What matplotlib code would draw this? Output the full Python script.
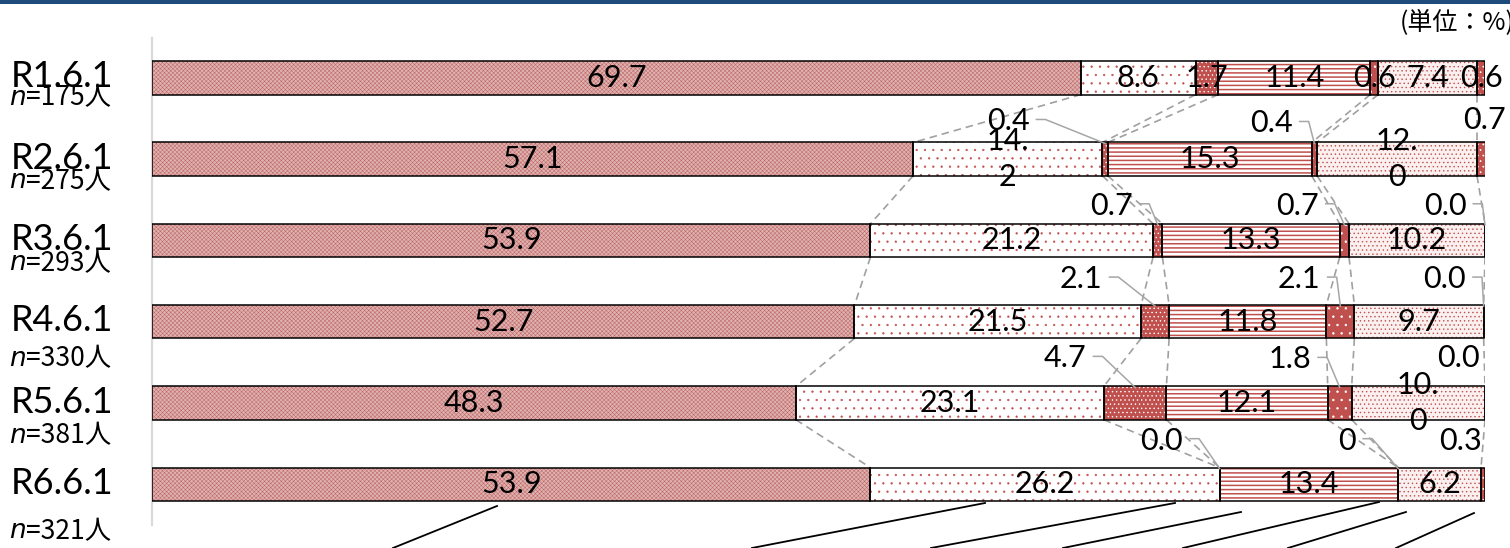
import matplotlib
matplotlib.use('Agg')
import matplotlib.pyplot as plt
from matplotlib.lines import Line2D
from matplotlib.patches import Rectangle
from matplotlib.transforms import IdentityTransform
import numpy as np

# ---------------- data ----------------
categories = ['R1.6.1', 'R2.6.1', 'R3.6.1', 'R4.6.1', 'R5.6.1', 'R6.6.1']
respondents = ['=175人', '=275人', '=293人', '=330人', '=381人', '=321人']
s1 = [69.7, 57.1, 53.9, 52.7, 48.3, 53.9]
s2 = [8.6, 14.2, 21.2, 21.5, 23.1, 26.2]
s3 = [1.7, 0.4, 0.7, 2.1, 4.7, 0.0]
s4 = [11.4, 15.3, 13.3, 11.8, 12.1, 13.4]
s5 = [0.6, 0.4, 0.7, 2.1, 1.8, 0.0]
s6 = [7.4, 12.0, 10.2, 9.7, 10.0, 6.2]
s7 = [0.6, 0.7, 0.0, 0.0, 0.0, 0.3]
series = [s1, s2, s3, s4, s5, s6, s7]

# label text as shown (Excel wrapped some labels)
label_override = {(1, 1): '14.\n2', (1, 5): '12.\n0', (4, 5): '10.\n0', (5, 4): '0'}

# ---------------- styling ----------------
W, H = 1510, 548
RED = '#C0504D'
styles = [
    dict(face='#DDB3B2', hcol='#C06462', hatch='xxxxxxxx', hlw=0.35),
    dict(face='white', hcol=RED, hatch='..', hlw=0.4),
    dict(face=RED, hcol='white', hatch='....', hlw=0.5),
    dict(face='white', hcol=RED, hatch='----', hlw=1.1),
    dict(face=RED, hcol='white', hatch='..', hlw=0.5),
    dict(face='#FBF0F0', hcol=RED, hatch='....', hlw=0.5),
    dict(face=RED, hcol='white', hatch='...', hlw=0.5),
]
NUMFONT = ['Lato', 'Noto Sans CJK JP']
VALSIZE = 22

fig = plt.figure(figsize=(W / 100, H / 100), dpi=100)
ax = fig.add_axes([152 / W, 1 - 525 / H, 1333 / W, 487 / H])
ax.set_xlim(0, 100)
ax.set_ylim(5.5, -0.49)
for sp in ['top', 'right', 'bottom']:
    ax.spines[sp].set_visible(False)
ax.spines['left'].set_color('#D9D9D9')
ax.spines['left'].set_linewidth(1.6)
ax.set_xticks([])
ax.set_yticks([])

bar_h = 0.41
ypos = np.arange(len(categories))
cum = np.zeros(len(categories))
lefts = []
for k, vals in enumerate(series):
    v = np.array(vals)
    st = styles[k]
    with plt.rc_context({'hatch.linewidth': st['hlw']}):
        bc = ax.barh(ypos, v, left=cum, height=bar_h, color=st['face'],
                     edgecolor=st['hcol'], hatch=st['hatch'], linewidth=0, zorder=3)
    for p in bc:
        if hasattr(p, 'set_hatch_linewidth'):
            p.set_hatch_linewidth(st['hlw'])
    ax.barh(ypos, v, left=cum, height=bar_h, facecolor='none',
            edgecolor='black', linewidth=1.1, zorder=4)
    lefts.append(cum.copy())
    cum = cum + v
lefts = np.array(lefts)            # shape (7, 6)
bounds = np.cumsum(np.array(series), axis=0)  # right edges

# series (connector) lines
for k in range(len(series) - 1):
    for i in range(len(categories) - 1):
        ax.plot([bounds[k, i], bounds[k, i + 1]],
                [i + bar_h / 2, i + 1 - bar_h / 2],
                color='#A0A0A0', lw=1.2, ls=(0, (4.5, 3)), zorder=2)

def to_px(x, y):
    dx, dy = ax.transData.transform((x, y))
    return dx, H - dy

ident = IdentityTransform()
renderer = fig.canvas.get_renderer()

# outside labels: (row, series): (dx, dy, leader) offsets in px from segment top centre
outside = {
    (1, 2): (-97, -21, True), (1, 4): (-43, -19, True), (1, 6): (3, -22, False),
    (2, 2): (-46, -18, True), (2, 4): (-47, -18, True), (2, 6): (-40, -18, True),
    (3, 2): (-74, -26, True), (3, 4): (-41, -26, True), (3, 6): (-39, -26, True),
    (4, 2): (-70, -28, True), (4, 4): (-50, -27, True), (4, 6): (-27, -28, False),
    (5, 2): (-58, -27, True), (5, 4): (-51, -27, True), (5, 6): (-23, -27, False),
}

for k, vals in enumerate(series):
    for i, v in enumerate(vals):
        txt = label_override.get((i, k), f'{v:.1f}')
        cx = lefts[k, i] + v / 2
        if (i, k) in outside:
            dx, dy, lead = outside[(i, k)]
            tx, ty = to_px(cx, i - bar_h / 2)
            lx, ly = tx + dx, ty + dy
            t = fig.text(lx, H - ly, txt, transform=ident, ha='center', va='center',
                         fontsize=VALSIZE, family=NUMFONT, zorder=6)
            if lead:
                bb = t.get_window_extent(renderer)
                sx = bb.x1 + 7
                sy = ly - 2
                xs = [sx, sx + 9, tx]
                ys = [H - sy, H - sy, H - (ty + 1)]
                fig.add_artist(Line2D(xs, ys, transform=ident, color='#A6A6A6', lw=1.1))
        else:
            ax.text(cx, i, txt, ha='center', va='center', fontsize=VALSIZE,
                    family=NUMFONT, zorder=6, linespacing=1.35)

# category labels
n_offsets = [20, 22, 23, 37, 33, 47]
for i, (c, r) in enumerate(zip(categories, respondents)):
    px, py = to_px(0, i)
    fig.text(62 / W, 1 - (py - 1) / H, c, ha='center', va='center', fontsize=26,
             family=NUMFONT)
    ny = py + n_offsets[i]
    x0 = 26
    fig.text(x0 / W, 1 - ny / H, 'n', ha='right', va='center', fontsize=19,
             family='DejaVu Sans', style='italic')
    fig.text(x0 / W, 1 - ny / H, r, ha='left', va='center', fontsize=19,
             family=['Noto Sans CJK JP', 'DejaVu Sans'])

# top band and unit text
fig.add_artist(Rectangle((0, 1 - 4 / H), 1, 4 / H, transform=fig.transFigure,
                         color='#1F4A7C', lw=0))
fig.text(1400 / W, 1 - 22 / H, '(単位：%)', ha='left', va='center', fontsize=18,
         family=['Noto Sans CJK JP', 'DejaVu Sans'])

# legend callout lines (legend itself lies below the visible area)
callouts = [((497, 506), (393, 548)), ((985, 503), (752, 548)),
            ((1175, 503), (931, 548)), ((1241, 512), (1063, 548)),
            ((1379, 502), (1183, 548)), ((1406, 512), (1288, 548)),
            ((1474, 513), (1396, 548))]
for (x1, y1), (x2, y2) in callouts:
    fig.add_artist(Line2D([x1 / W, x2 / W], [1 - y1 / H, 1 - y2 / H],
                          transform=fig.transFigure, color='black', lw=1.3))

fig.savefig('out.png', dpi=100)
